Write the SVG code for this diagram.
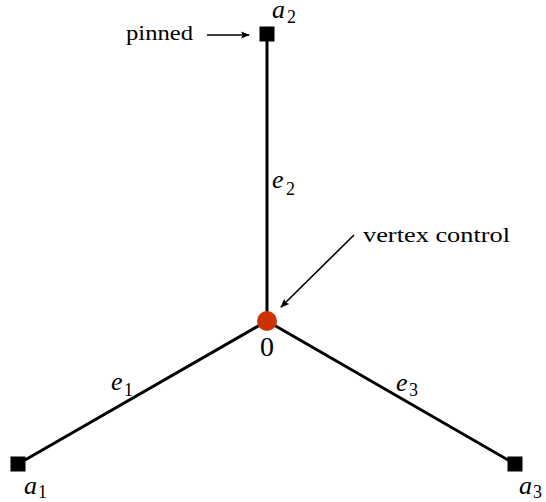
<svg xmlns="http://www.w3.org/2000/svg" width="546" height="502" viewBox="0 0 546 502">
<style>
.edge{stroke:#000;stroke-width:3;fill:none}
.ann{stroke:#000;stroke-width:1.6;fill:none}
text{font-family:'Liberation Serif','Times New Roman',Times,serif;fill:#000}
.t{font-size:22px}
.z{font-size:28px}
.m{font-style:italic;font-size:26px}
.s{font-style:normal;font-size:18px}
.pin{fill:#000}
</style>
<defs>
<marker id="ah2" viewBox="0 0 10 10" refX="9" refY="5" markerWidth="9" markerHeight="9" markerUnits="userSpaceOnUse" orient="auto">
<path d="M0,1 L10,5 L0,9 L2,5 Z" fill="#000"/>
</marker>
</defs>
<g id="connectors">
<line id="e2" class="edge" x1="267" y1="34" x2="267" y2="321"/>
<line id="e1" class="edge" x1="18" y1="464" x2="267" y2="321"/>
<line id="e3" class="edge" x1="515" y1="464" x2="267" y2="321"/>
<line id="pinned-arrow" class="ann" x1="207" y1="35" x2="249" y2="35" marker-end="url(#ah2)"/>
<line id="vc-arrow" class="ann" x1="354" y1="235" x2="281" y2="307" marker-end="url(#ah2)"/>
</g>
<g id="node-0">
<circle cx="267" cy="321" r="10" fill="#cc3300"/>
<text class="z" x="267" y="356" text-anchor="middle">0</text>
</g>
<g id="node-a1">
<rect class="pin" x="10.500" y="456.500" width="15" height="15"/>
<text class="m" x="24" y="494">a</text><text class="s" x="38" y="498">1</text>
</g>
<g id="node-a2">
<rect class="pin" x="259.500" y="26.500" width="15" height="15"/>
<text class="m" x="272" y="18">a</text><text class="s" x="287" y="23">2</text>
</g>
<g id="node-a3">
<rect class="pin" x="507.500" y="456.500" width="15" height="15"/>
<text class="m" x="519" y="494">a</text><text class="s" x="533" y="498">3</text>
</g>
<g id="labels">
<text class="m" x="272" y="188">e</text><text class="s" x="286" y="195">2</text>
<text class="m" x="111" y="390">e</text><text class="s" x="124" y="396">1</text>
<text class="m" x="396" y="391">e</text><text class="s" x="409" y="396">3</text>
<text class="t" x="126" y="40" textLength="67" lengthAdjust="spacingAndGlyphs">pinned</text>
<text class="t" x="363" y="242" textLength="147" lengthAdjust="spacingAndGlyphs">vertex control</text>
</g>
</svg>
